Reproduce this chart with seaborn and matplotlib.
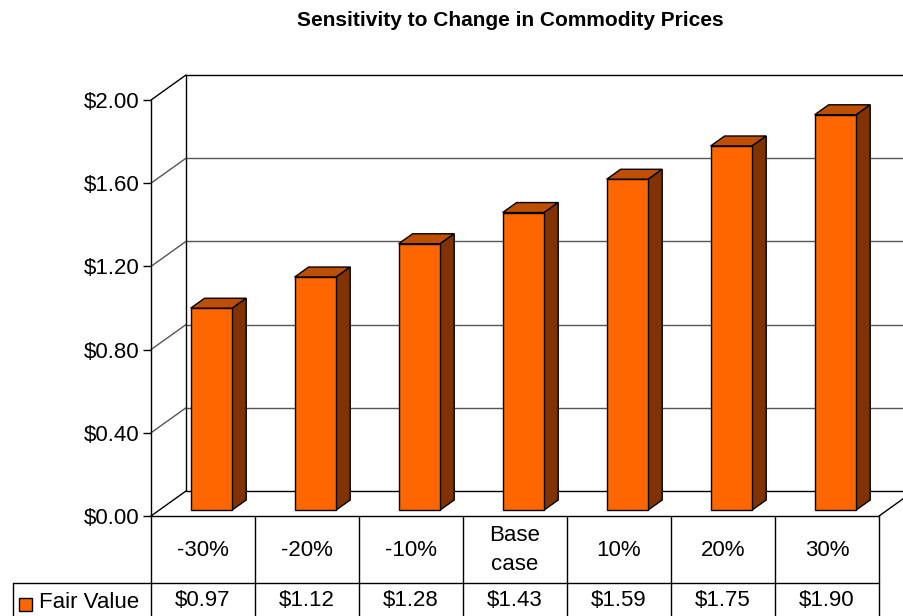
import matplotlib
matplotlib.use("Agg")
import matplotlib.pyplot as plt
import seaborn as sns
import pandas as pd
from matplotlib.patches import Polygon, Rectangle
from matplotlib import transforms

categories = ["-30%", "-20%", "-10%", "Base\ncase", "10%", "20%", "30%"]
values = [0.97, 1.12, 1.28, 1.43, 1.59, 1.75, 1.90]
value_labels = ["$0.97", "$1.12", "$1.28", "$1.43", "$1.59", "$1.75", "$1.90"]
yticks = [0.0, 0.4, 0.8, 1.2, 1.6, 2.0]
ytick_labels = ["$0.00", "$0.40", "$0.80", "$1.20", "$1.60", "$2.00"]
series_name = "Fair Value"
title = "Sensitivity to Change in Commodity Prices"

FRONT = "#FF6600"
SIDE = "#803300"
TOP = "#BF4F00"

sns.set_theme(style="white")
plt.rcParams["font.family"] = ["Liberation Sans", "DejaVu Sans"]
plt.rcParams["text.color"] = "black"
plt.rcParams["ytick.color"] = "black"
plt.rcParams["ytick.labelcolor"] = "black"

W, H = 904, 616
FS = 16
fig = plt.figure(figsize=(W / 100, H / 100), dpi=100)
# front plane of the 3D box: x 151..879, y(0)=516, y(2)=100 (pixels from top)
L, R, Y0, Y2 = 151, 879, 516, 100
ax = fig.add_axes([L / W, (H - Y0) / H, (R - L) / W, (Y0 - Y2) / H])
ax.set_xlim(-0.5, 6.5)
ax.set_ylim(0, 2)

pxx = 7 / (R - L)      # data units per pixel (x)
pxy = 2 / (Y0 - Y2)    # data units per pixel (y)
DEPX, DEPY = 35, 25    # full depth offset in pixels


def off(d):
    return DEPX * d * pxx, DEPY * d * pxy


df = pd.DataFrame({"cat": categories, "val": values})
sns.barplot(data=df, x="cat", y="val", ax=ax, color=FRONT, width=0.4,
            edgecolor="black", linewidth=1.0, saturation=1, zorder=5)

# walls and gridlines
bx, by = off(1)
for v in yticks:
    c = "black" if v in (0.0, 2.0) else "#555555"
    ax.plot([-0.5 + bx, 6.5 + bx], [v + by, v + by], color=c, lw=1.0,
            clip_on=False, zorder=1)
    ax.plot([-0.5, -0.5 + bx], [v, v + by], color=c, lw=1.0,
            clip_on=False, zorder=1)
ax.plot([-0.5 + bx, -0.5 + bx], [by, 2 + by], color="black", lw=1.0,
        clip_on=False, zorder=1)
ax.plot([6.5, 6.5 + bx], [0, by], color="black", lw=1.0, clip_on=False, zorder=1)

# 3D bar faces
d_front, d_back = 0.24, 0.64
fx, fy = off(d_front)
kx, ky = off(d_back)
for p in ax.patches[:len(values)]:
    p.set_transform(transforms.offset_copy(ax.transData, fig=fig,
                                           x=DEPX * d_front, y=DEPY * d_front,
                                           units="dots"))
    x0 = p.get_x() + fx
    x1 = p.get_x() + p.get_width() + fx
    h = p.get_height() + fy
    y0 = fy
    top = Polygon([[x0, h], [x1, h], [x1 + kx - fx, h + ky - fy],
                   [x0 + kx - fx, h + ky - fy]], closed=True,
                  facecolor=TOP, edgecolor="black", lw=1.0, zorder=4,
                  clip_on=False)
    side = Polygon([[x1, y0], [x1, h], [x1 + kx - fx, h + ky - fy],
                    [x1 + kx - fx, y0 + ky - fy]], closed=True,
                   facecolor=SIDE, edgecolor="black", lw=1.0, zorder=4,
                   clip_on=False)
    ax.add_patch(top)
    ax.add_patch(side)
    p.set_clip_on(False)

ax.set_yticks(yticks)
ax.set_yticklabels(ytick_labels, fontsize=FS, color="black")
ax.set_xticks([])
ax.set_xlabel("")
ax.set_ylabel("")
ax.tick_params(axis="y", direction="out", length=6, width=1, color="black",
               pad=2, left=True, labelcolor="black")
for s in ["top", "right"]:
    ax.spines[s].set_visible(False)
for s in ["left", "bottom"]:
    ax.spines[s].set_visible(True)
    ax.spines[s].set_color("black")
    ax.spines[s].set_linewidth(1.0)

# data table (pixel coordinates from top)
px = transforms.Affine2D().scale(1, -1).translate(0, H)
bt = transforms.blended_transform_factory(ax.transData, px)
for k in range(len(categories) + 1):
    xb = -0.5 + k
    ax.plot([xb, xb], [Y0, H + 2], transform=bt, color="black", lw=1.0,
            clip_on=False)
ident = transforms.IdentityTransform()
fig.add_artist(plt.Line2D([13, R], [H - 583, H - 583], color="black", lw=1.0,
                          transform=ident))
fig.add_artist(plt.Line2D([13, 13], [H - 583, -2], color="black", lw=1.0,
                          transform=ident))
for i, (c, vl) in enumerate(zip(categories, value_labels)):
    ax.text(i, 550, c, transform=bt, ha="center", va="center", fontsize=FS,
            linespacing=1.45, clip_on=False, color="black")
    ax.text(i, 601, vl, transform=bt, ha="center", va="center", fontsize=FS,
            clip_on=False, color="black")
fig.add_artist(Rectangle((19, H - 611), 13, 13, facecolor=FRONT,
                         edgecolor="black", lw=1.0, transform=ident))
fig.text(39 / W, 1 - 603 / H, series_name, ha="left", va="center",
         fontsize=FS, color="black")

fig.text(510 / W, 1 - 20 / H, title, ha="center", va="center", fontsize=15,
         fontweight="bold", color="black")

fig.savefig("out.png", dpi=100)
